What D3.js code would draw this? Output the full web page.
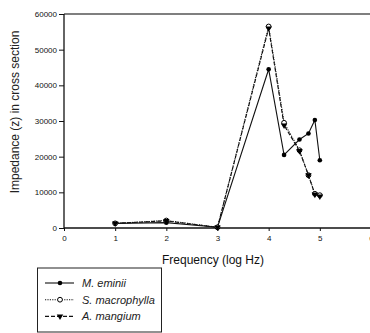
<!DOCTYPE html>
<html><head><meta charset="utf-8">
<script src="https://cdn.jsdelivr.net/npm/d3@7"></script>
<style>body{margin:0;background:#fff}svg{display:block;font-family:"Liberation Sans",Arial,sans-serif}</style>
</head><body><svg id="c" width="370" height="333"></svg>
<script>
const freqLog = [1, 2, 3, 4, 4.301, 4.602, 4.778, 4.903, 5];
const mEminii = [1300, 1500, 200, 44500, 20500, 24800, 26500, 30300, 19000];
const sMacrophylla = [1300, 2100, 200, 56500, 29500, 21800, 14800, 9600, 9200];
const aMangium = [1300, 2000, 200, 56000, 28800, 21600, 14800, 9400, 8900];
const xTicks = [0, 1, 2, 3, 4, 5, 6];
const yTicks = [0, 10000, 20000, 30000, 40000, 50000, 60000];
const seriesNames = ["M. eminii", "S. macrophylla", "A. mangium"];

const svg = d3.select("#c");
const x = d3.scaleLinear().domain([0, 6]).range([64, 371]);
const y = d3.scaleLinear().domain([0, 60000]).range([228, 14]);

// top frame line
svg.append("line").attr("x1", 64).attr("x2", 370).attr("y1", y(60000)).attr("y2", y(60000))
  .attr("stroke", "#555").attr("stroke-width", 1.6);

const yAxis = svg.append("g").attr("transform", "translate(64,0)")
  .call(d3.axisLeft(y).tickValues(yTicks).tickFormat(d3.format("d")).tickSize(5).tickPadding(2));
const xAxis = svg.append("g").attr("transform", "translate(0,228)")
  .call(d3.axisBottom(x).tickValues(xTicks).tickFormat(d3.format("d")).tickSize(3).tickPadding(4));
[yAxis, xAxis].forEach(g => {
  g.select(".domain").attr("stroke", "#111").attr("stroke-width", 1.3);
  g.selectAll(".tick line").attr("stroke", "#111");
  g.selectAll("text").attr("font-size", 8).attr("fill", "#111").attr("font-family", "'Liberation Sans',Arial,sans-serif");
});
yAxis.select(".domain").attr("d", "M0,228V14");
xAxis.select(".domain").attr("d", "M64,0H370");

svg.append("text").attr("transform", "translate(19,112) rotate(-90)").attr("text-anchor", "middle")
  .attr("font-size", 12).attr("fill", "#222").text("Impedance (z) in cross section");
svg.append("text").attr("x", 213).attr("y", 264).attr("text-anchor", "middle")
  .attr("font-size", 12).attr("fill", "#111").text("Frequency (log Hz)");

const styles = [
  {vals: mEminii, dash: null, marker: "dot"},
  {vals: sMacrophylla, dash: "1.2,1.2", marker: "open"},
  {vals: aMangium, dash: "4,2", marker: "tri"}
];
const line = d3.line().x(d => x(d[0])).y(d => y(d[1]));
const tri = d3.symbol().type(d3.symbolTriangle).size(18);

function drawMarker(g, type, cx, cy) {
  if (type === "dot") g.append("circle").attr("cx", cx).attr("cy", cy).attr("r", 2.3).attr("fill", "#000");
  else if (type === "open") g.append("circle").attr("cx", cx).attr("cy", cy).attr("r", 2.4).attr("fill", "#fff").attr("stroke", "#000").attr("stroke-width", 1);
  else g.append("path").attr("d", tri()).attr("transform", `translate(${cx},${cy}) rotate(180)`).attr("fill", "#000");
}

styles.forEach(s => {
  const pts = freqLog.map((f, i) => [f, s.vals[i]]);
  svg.append("path").attr("d", line(pts)).attr("fill", "none").attr("stroke", "#111")
    .attr("stroke-width", 1.1).attr("stroke-dasharray", s.dash);
});
styles.forEach(s => {
  const g = svg.append("g");
  freqLog.forEach((f, i) => drawMarker(g, s.marker, x(f), y(s.vals[i])));
});

// legend
const lg = svg.append("g");
lg.append("rect").attr("x", 37.5).attr("y", 268).attr("width", 124).attr("height", 64)
  .attr("fill", "#fff").attr("stroke", "#222").attr("stroke-width", 1);
seriesNames.forEach((n, i) => {
  const yy = 283 + i * 16.7;
  lg.append("line").attr("x1", 45).attr("x2", 74).attr("y1", yy).attr("y2", yy)
    .attr("stroke", "#111").attr("stroke-width", 1.1).attr("stroke-dasharray", styles[i].dash);
  drawMarker(lg, styles[i].marker, 60, yy);
  lg.append("text").attr("x", 82).attr("y", yy + 4).attr("font-size", 11).attr("font-style", "italic")
    .attr("fill", "#222").text(n);
});
</script></body></html>
